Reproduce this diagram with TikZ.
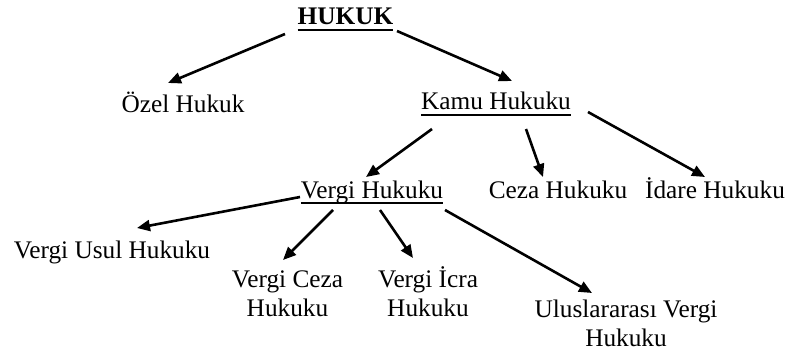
\documentclass[tikz,border=0pt]{standalone}
\usepackage{fontspec}
\setmainfont{Liberation Serif}
\usetikzlibrary{arrows.meta}
\tikzset{
  lbl/.style={inner sep=0pt, outer sep=0pt, anchor=base, font=\fontsize{25.3}{29}\selectfont},
  arr/.style={line width=2.6pt, -{Triangle[length=13pt,width=11pt]}},
  uline/.style={line width=1.6pt}
}
\begin{document}
\begin{tikzpicture}[x=1pt,y=-1pt]
\useasboundingbox (0,0) rectangle (791,350);
% nodes
\node[lbl, font=\fontsize{25.3}{29}\selectfont\bfseries] (hukuk) at (345.5,25) {HUKUK};
\node[lbl] (ozel) at (183,112) {Özel Hukuk};
\node[lbl] (kamu) at (496,110) {Kamu Hukuku};
\node[lbl] (vergi) at (372,198) {Vergi Hukuku};
\node[lbl] (ceza) at (558,198) {Ceza Hukuku};
\node[lbl] (idare) at (715,198) {İdare Hukuku};
\node[lbl] (usul) at (112,258) {Vergi Usul Hukuku};
\node[lbl] (vceza) at (287.5,287) {\begin{tabular}[t]{@{}c@{}}Vergi Ceza\\Hukuku\end{tabular}};
\node[lbl] (vicra) at (428,287) {\begin{tabular}[t]{@{}c@{}}Vergi İcra\\Hukuku\end{tabular}};
\node[lbl] (ulus) at (626,317) {\begin{tabular}[t]{@{}c@{}}Uluslararası Vergi\\Hukuku\end{tabular}};
% underlines
\draw[uline, line width=2pt] ([yshift=-5pt]hukuk.base west) -- ([yshift=-5pt]hukuk.base east);
\draw[uline] ([yshift=-5pt]kamu.base west) -- ([yshift=-5pt]kamu.base east);
\draw[uline] ([yshift=-5pt]vergi.base west) -- ([yshift=-5pt]vergi.base east);
% arrows
\draw[arr] ([shift={(-60.5,9)}]hukuk.base) -- ([shift={(-15,-29)}]ozel.base);
\draw[arr] ([shift={(51.5,6)}]hukuk.base) -- ([shift={(16,-29)}]kamu.base);
\draw[arr] ([shift={(-64,19)}]kamu.base) -- ([shift={(-6,-21)}]vergi.base);
\draw[arr] ([shift={(30,19)}]kamu.base) -- ([shift={(-15,-21)}]ceza.base);
\draw[arr] ([shift={(92,2)}]kamu.base) -- ([shift={(-10,-21)}]idare.base);
\draw[arr] ([shift={(-72,-1)}]vergi.base) -- ([shift={(25,-30)}]usul.base);
\draw[arr] ([shift={(-39,12)}]vergi.base) -- ([shift={(-4.5,-27)}]vceza.base);
\draw[arr] ([shift={(8,12)}]vergi.base) -- ([shift={(-15,-29)}]vicra.base);
\draw[arr] ([shift={(73,12)}]vergi.base) -- ([shift={(-34,-24)}]ulus.base);
\end{tikzpicture}
\end{document}
